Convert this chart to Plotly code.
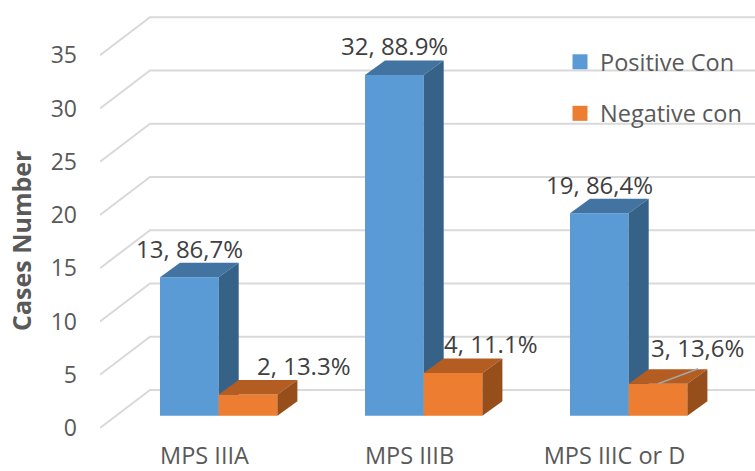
import plotly.graph_objects as go

categories = ["MPS IIIA", "MPS IIIB", "MPS IIIC or D"]
positive_con = [13, 32, 19]
negative_con = [2, 4, 3]
positive_labels = ["13, 86,7%", "32, 88.9%", "19, 86,4%"]
negative_labels = ["2, 13.3%", "4, 11.1%", "3, 13,6%"]
y_ticks = [0, 5, 10, 15, 20, 25, 30, 35]

FONT = "Open Sans"
W, H = 755, 471
L, B = 100, 36
PX_X = 205.0      # px per category
PX_Y = 10.65      # px per unit
plot_bottom = H - B

# front-plane axis
x0_px, y0_px = 204.5, 428.0
# bars plane axis
bx0_px, by0_px = 218.7, 415.7

def xrange_for(zero):
    return [(L - zero) / PX_X, (W - zero) / PX_X]

def yrange_for(zero):
    return [(zero - plot_bottom) / PX_Y, zero / PX_Y]

xr1, yr1 = xrange_for(x0_px), yrange_for(y0_px)
xr2, yr2 = xrange_for(bx0_px), yrange_for(by0_px)

bar_w = 58.7 / PX_X
bar_dx, bar_dy = 20 / PX_X, 14.5 / PX_Y
wall_dx, wall_dy = 50 / PX_X, 38 / PX_Y

fig = go.Figure()

# back wall and side wall gridlines
gx, gy = [], []
for v in y_ticks:
    gx += [xr1[0], xr1[0] + wall_dx, xr1[1], None]
    gy += [v, v + wall_dy, v + wall_dy, None]
fig.add_trace(go.Scatter(x=gx, y=gy, mode="lines", line=dict(color="#D9D9D9", width=2),
                         showlegend=False, hoverinfo="skip", cliponaxis=False))

def add_series(values, offset, front, top, side, xa, ya, name):
    fig.add_trace(go.Bar(x=list(range(len(values))), y=values, width=bar_w, offset=offset,
                         marker=dict(color=front, line=dict(width=0)), name=name, showlegend=False,
                         xaxis=xa, yaxis=ya))
    for i, v in enumerate(values):
        xl, xr = i + offset, i + offset + bar_w
        fig.add_trace(go.Scatter(x=[xl, xr, xr + bar_dx, xl + bar_dx, xl],
                                 y=[v, v, v + bar_dy, v + bar_dy, v],
                                 fill="toself", fillcolor=top, mode="lines", line=dict(width=0),
                                 showlegend=False, hoverinfo="skip", xaxis=xa, yaxis=ya))
        fig.add_trace(go.Scatter(x=[xr, xr + bar_dx, xr + bar_dx, xr, xr],
                                 y=[0, bar_dy, v + bar_dy, v, 0],
                                 fill="toself", fillcolor=side, mode="lines", line=dict(width=0),
                                 showlegend=False, hoverinfo="skip", xaxis=xa, yaxis=ya))

add_series(positive_con, -bar_w, "#5B9BD5", "#4273A1", "#376288", "x2", "y2", "Positive Con")
add_series(negative_con, 0, "#ED7D31", "#B35D22", "#964F1A", "x3", "y3", "Negative con")

# leader line on the last orange label
fig.add_trace(go.Scatter(x=[2 + bar_w / 2, 2 + bar_w / 2 + 40 / PX_X],
                         y=[negative_con[2], negative_con[2] + 15 / PX_Y],
                         mode="lines", line=dict(color="#A6A6A6", width=1.5),
                         showlegend=False, hoverinfo="skip", xaxis="x3", yaxis="y3"))

# legend entries
for name, color in [("Positive Con", "#5B9BD5"), ("Negative con", "#ED7D31")]:
    fig.add_trace(go.Scatter(x=[None], y=[None], mode="markers", name=name, legendgroup=name,
                             marker=dict(symbol="square", size=15, color=color)))

annotations = []
for i, (v, t) in enumerate(zip(positive_con, positive_labels)):
    annotations.append(dict(x=i - bar_w / 2, y=v, xref="x2", yref="y2", text=t, showarrow=False,
                            yshift=29, font=dict(family=FONT, size=24, color="#404040")))
neg_shift = [(55, 29), (37.5, 30), (39, 36)]
for i, (v, t) in enumerate(zip(negative_con, negative_labels)):
    annotations.append(dict(x=i + bar_w / 2, y=v, xref="x3", yref="y3", text=t, showarrow=False,
                            xshift=neg_shift[i][0], yshift=neg_shift[i][1],
                            font=dict(family=FONT, size=24, color="#404040")))
# paper coordinates are relative to the plot area
annotations.append(dict(x=(21 - L) / (W - L), y=(plot_bottom - 241) / plot_bottom,
                        xref="paper", yref="paper", yanchor="middle", xanchor="center",
                        text="<b>Cases Number</b>", textangle=-90,
                        showarrow=False, font=dict(family=FONT, size=25, color="#595959")))

hidden = dict(visible=False, fixedrange=True)
fig.update_layout(
    width=W, height=H, margin=dict(l=L, r=0, t=0, b=B, autoexpand=False),
    paper_bgcolor="white", plot_bgcolor="white",
    barmode="overlay",
    font=dict(family=FONT, color="#595959", size=23),
    xaxis=dict(range=xr1, tickvals=[0, 1, 2], ticktext=categories, showgrid=False, zeroline=False,
               showline=False, ticks="", tickfont=dict(size=23.5), ticklabelstandoff=4),
    yaxis=dict(range=yr1, tickvals=y_ticks, showgrid=False, zeroline=False, showline=False,
               ticks="", tickfont=dict(size=23), ticklabelstandoff=22),
    xaxis2=dict(range=xr2, overlaying="x", **hidden),
    yaxis2=dict(range=yr2, overlaying="y", **hidden),
    xaxis3=dict(range=xr2, overlaying="x", **hidden),
    yaxis3=dict(range=yr2, overlaying="y", **hidden),
    legend=dict(x=560 / W, y=1 - 40 / H, xref="container", yref="container", xanchor="left", yanchor="top",
                tracegroupgap=18, font=dict(family=FONT, size=23.5, color="#595959"),
                bgcolor="rgba(0,0,0,0)", itemsizing="trace"),
    annotations=annotations,
)

fig.write_html("out.html", config=dict(displayModeBar=False),
               post_script="document.body.style.margin='0';")
